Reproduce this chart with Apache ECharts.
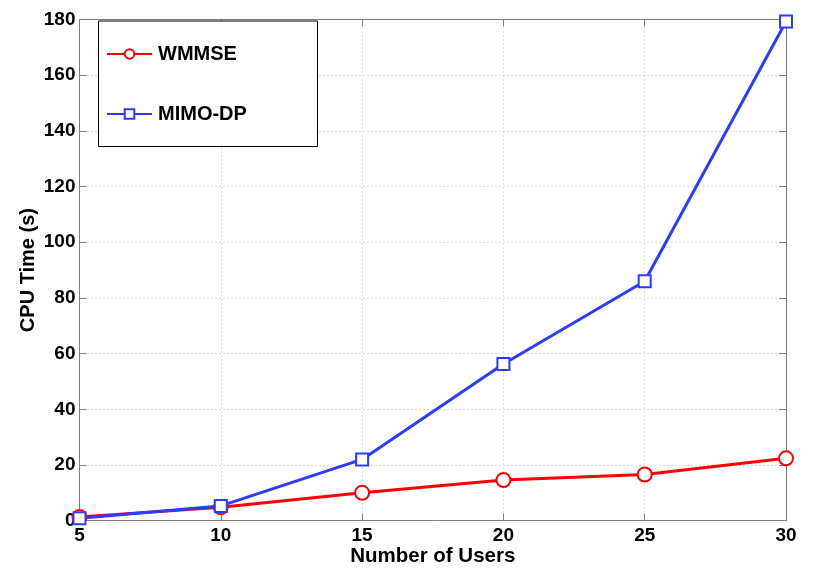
<!DOCTYPE html>
<html>
<head>
<meta charset="utf-8">
<script src="https://cdn.jsdelivr.net/npm/echarts@6/dist/echarts.min.js"></script>
<style>html,body{margin:0;padding:0;background:#fff}#c{width:830px;height:573px}</style>
</head>
<body>
<div id="c"></div>
<script>
var users = [5, 10, 15, 20, 25, 30];
var wmmse = [1.3, 4.8, 10.0, 14.6, 16.6, 22.4];
var mimodp = [0.9, 5.3, 22.0, 56.3, 86.0, 179.3];
var xName = 'Number of Users';
var yName = 'CPU Time (s)';

function pairs(xs, ys) { return xs.map(function (x, i) { return [x, ys[i]]; }); }

var FONT = '"Liberation Sans", Arial, sans-serif';
var AX = '#7f7f7f';
var chart = echarts.init(document.getElementById('c'));
var tickLbl = { fontFamily: FONT, fontWeight: 'bold', fontSize: 19, color: '#000' };
chart.setOption({
  animation: false,
  backgroundColor: '#fff',
  grid: { left: 79.5, right: 44, top: 19.5, bottom: 52.3, containLabel: false, outerBoundsMode: 'none' },
  xAxis: [{
    type: 'value', min: 5, max: 30, interval: 5, position: 'bottom',
    name: xName, nameLocation: 'middle', nameGap: 25.5, nameMoveOverlap: false,
    nameTextStyle: { fontFamily: FONT, fontWeight: 'bold', fontSize: 20.5, color: '#000' },
    axisLine: { show: true, onZero: false, lineStyle: { color: AX, width: 1 } },
    axisTick: { show: true, inside: true, length: 7, lineStyle: { color: AX } },
    axisLabel: Object.assign({ margin: 6 }, tickLbl),
    splitLine: { show: true, lineStyle: { color: '#bdbdbd', type: [1, 3], width: 1 } }
  }, {
    type: 'value', min: 5, max: 30, interval: 5, position: 'top',
    axisLine: { show: true, onZero: false, lineStyle: { color: AX, width: 1 } },
    axisTick: { show: true, inside: true, length: 7, lineStyle: { color: AX } },
    axisLabel: { show: false }, splitLine: { show: false }
  }],
  yAxis: [{
    type: 'value', min: 0, max: 180, interval: 20, position: 'left',
    name: yName, nameLocation: 'middle', nameGap: 41, nameRotate: 90, nameMoveOverlap: false,
    nameTextStyle: { fontFamily: FONT, fontWeight: 'bold', fontSize: 20, color: '#000' },
    axisLine: { show: true, onZero: false, lineStyle: { color: AX, width: 1 } },
    axisTick: { show: true, inside: true, length: 7, lineStyle: { color: AX } },
    axisLabel: Object.assign({ margin: 4 }, tickLbl),
    splitLine: { show: true, lineStyle: { color: '#bdbdbd', type: [1, 3], width: 1 } }
  }, {
    type: 'value', min: 0, max: 180, interval: 20, position: 'right',
    axisLine: { show: true, onZero: false, lineStyle: { color: AX, width: 1 } },
    axisTick: { show: true, inside: true, length: 7, lineStyle: { color: AX } },
    axisLabel: { show: false }, splitLine: { show: false }
  }],
  graphic: [{
    type: 'rect', z: 5, left: 98, top: 20.5,
    shape: { width: 219, height: 125.5 },
    style: { fill: '#fff', stroke: '#000', lineWidth: 1 }
  }],
  legend: {
    z: 10, orient: 'vertical', left: 101, top: 39,
    itemWidth: 45, itemHeight: 12, itemGap: 40,
    textStyle: { fontFamily: FONT, fontWeight: 'bold', fontSize: 20, lineHeight: 20, color: '#000', padding: [0, 0, 0, 1] },
    data: ['WMMSE', 'MIMO-DP']
  },
  series: [{
    name: 'WMMSE', type: 'line', data: pairs(users, wmmse),
    symbol: 'emptyCircle', symbolSize: 14,
    lineStyle: { color: '#ff0000', width: 3 },
    itemStyle: { color: '#ff0000', borderColor: '#ff0000', borderWidth: 2.5 }
  }, {
    name: 'MIMO-DP', type: 'line', data: pairs(users, mimodp),
    symbol: 'emptyRect', symbolSize: 12,
    lineStyle: { color: '#2a3cff', width: 3 },
    itemStyle: { color: '#2a3cff', borderColor: '#2a3cff', borderWidth: 2.5 }
  }]
});
</script>
</body>
</html>
